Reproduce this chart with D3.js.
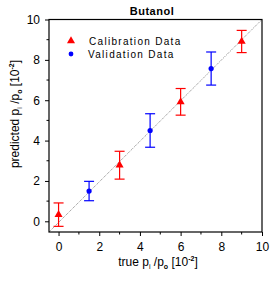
<!DOCTYPE html>
<html>
<head>
<meta charset="utf-8">
<script src="https://cdn.jsdelivr.net/npm/d3@7"></script>
<style>
  body { margin: 0; background: #fff; }
  text { font-family: "Liberation Sans", Arial, sans-serif; }
</style>
</head>
<body>
<div id="chart"></div>
<script>
// data
var calibX = [0, 3, 6, 9];
var calibY = [0.33, 2.78, 5.92, 8.91];
var calibErr = [0.58, 0.69, 0.66, 0.55];

var validX = [1.5, 4.5, 7.5];
var validY = [1.5, 4.5, 7.57];
var validErr = [0.48, 0.83, 0.82];

var tickVals = [0, 2, 4, 6, 8, 10];
var minorVals = [1, 3, 5, 7, 9];

var svgWidth = 280;
var svgHeight = 281;

var margin = { top: 19.5, right: 18, bottom: 49, left: 49 };
var width = 262 - margin.left;
var height = 232 - margin.top;

var svg = d3.select("#chart")
  .append("svg")
  .attr("width", svgWidth)
  .attr("height", svgHeight);

var chartGroup = svg.append("g")
  .attr("transform", `translate(${margin.left}, ${margin.top})`);

var xScale = d3.scaleLinear().domain([-0.47, 10]).range([0, width]);
var yScale = d3.scaleLinear().domain([-0.53, 10]).range([height, 0]);

// diagonal reference line
chartGroup.append("line")
  .attr("x1", xScale(-0.47)).attr("y1", yScale(-0.53))
  .attr("x2", xScale(10)).attr("y2", yScale(10))
  .attr("stroke", "#888")
  .attr("stroke-width", 1)
  .attr("stroke-dasharray", "1,1");

// axes
var xAxis = d3.axisBottom(xScale).tickValues(tickVals).tickSize(4).tickPadding(6);
var yAxis = d3.axisLeft(yScale).tickValues(tickVals).tickSize(4).tickPadding(5);

var gx = chartGroup.append("g")
  .attr("transform", `translate(0, ${height})`)
  .call(xAxis);
var gy = chartGroup.append("g").call(yAxis);

[gx, gy].forEach(function (g) {
  g.select(".domain").remove();
  g.selectAll("text").attr("font-size", "12px").attr("fill", "#000")
    .style("font-family", "Liberation Sans, Arial, sans-serif");
  g.selectAll("line").attr("stroke", "#000");
});

// minor ticks
chartGroup.selectAll(".xminor")
  .data(minorVals).enter().append("line")
  .attr("x1", d => xScale(d)).attr("x2", d => xScale(d))
  .attr("y1", height).attr("y2", height + 2.5)
  .attr("stroke", "#000");
chartGroup.selectAll(".yminor")
  .data(minorVals).enter().append("line")
  .attr("y1", d => yScale(d)).attr("y2", d => yScale(d))
  .attr("x1", 0).attr("x2", -2.5)
  .attr("stroke", "#000");

// frame
chartGroup.append("rect")
  .attr("x", 0).attr("y", 0)
  .attr("width", width).attr("height", height)
  .attr("fill", "none")
  .attr("stroke", "#000")
  .attr("stroke-width", 1.2);

function drawErrors(xs, ys, errs, color) {
  var data = xs.map((x, i) => ({ x: x, y: ys[i], e: errs[i] }));
  var g = chartGroup.append("g").attr("stroke", color).attr("stroke-width", 1.2);
  g.selectAll(".v").data(data).enter().append("line")
    .attr("x1", d => xScale(d.x)).attr("x2", d => xScale(d.x))
    .attr("y1", d => yScale(d.y + d.e)).attr("y2", d => yScale(d.y - d.e));
  g.selectAll(".t").data(data).enter().append("line")
    .attr("x1", d => xScale(d.x) - 5).attr("x2", d => xScale(d.x) + 5)
    .attr("y1", d => yScale(d.y + d.e)).attr("y2", d => yScale(d.y + d.e));
  g.selectAll(".b").data(data).enter().append("line")
    .attr("x1", d => xScale(d.x) - 5).attr("x2", d => xScale(d.x) + 5)
    .attr("y1", d => yScale(d.y - d.e)).attr("y2", d => yScale(d.y - d.e));
  return data;
}

var calib = drawErrors(calibX, calibY, calibErr, "red");
var valid = drawErrors(validX, validY, validErr, "blue");

var tri = d3.symbol().type(d3.symbolTriangle).size(28);
chartGroup.selectAll(".calib")
  .data(calib).enter().append("path")
  .attr("d", tri)
  .attr("transform", d => `translate(${xScale(d.x)}, ${yScale(d.y)})`)
  .attr("fill", "red");

chartGroup.selectAll(".valid")
  .data(valid).enter().append("circle")
  .attr("cx", d => xScale(d.x))
  .attr("cy", d => yScale(d.y))
  .attr("r", 2.6)
  .attr("fill", "blue");

// legend
svg.append("path").attr("d", tri).attr("transform", "translate(71, 41)").attr("fill", "red");
svg.append("circle").attr("cx", 71).attr("cy", 54).attr("r", 2.4).attr("fill", "blue");
svg.append("text").attr("x", 89).attr("y", 45)
  .attr("font-size", "10px").attr("letter-spacing", "1.3px")
  .text("Calibration Data");
svg.append("text").attr("x", 88).attr("y", 58)
  .attr("font-size", "10px").attr("letter-spacing", "1.3px")
  .text("Validation Data");

// title
svg.append("text")
  .attr("x", 152).attr("y", 15)
  .attr("text-anchor", "middle")
  .attr("font-size", "11px")
  .attr("font-weight", "bold")
  .attr("letter-spacing", "0.5px")
  .text("Butanol");

// axis titles
var xt = svg.append("text")
  .attr("x", 158).attr("y", 266)
  .attr("text-anchor", "middle")
  .attr("font-size", "12px");
xt.append("tspan").text("true p");
xt.append("tspan").attr("font-size", "7px").attr("dy", 3).text("i");
xt.append("tspan").attr("dy", -3).text(" /p");
xt.append("tspan").attr("font-size", "7px").attr("font-weight", "bold").attr("dy", 3).text("o");
xt.append("tspan").attr("dy", -3).text(" [10");
xt.append("tspan").attr("font-size", "7px").attr("font-weight", "bold").attr("dy", -5).text("-2");
xt.append("tspan").attr("dy", 5).text("]");

var yt = svg.append("text")
  .attr("transform", "translate(19, 114) rotate(-90)")
  .attr("text-anchor", "middle")
  .attr("font-size", "12px");
yt.append("tspan").text("predicted p");
yt.append("tspan").attr("font-size", "7px").attr("dy", 3).text("i");
yt.append("tspan").attr("dy", -3).text(" /p");
yt.append("tspan").attr("font-size", "7px").attr("font-weight", "bold").attr("dy", 3).text("o");
yt.append("tspan").attr("dy", -3).text(" [10");
yt.append("tspan").attr("font-size", "7px").attr("font-weight", "bold").attr("dy", -5).text("-2");
yt.append("tspan").attr("dy", 5).text("]");
</script>
</body>
</html>
